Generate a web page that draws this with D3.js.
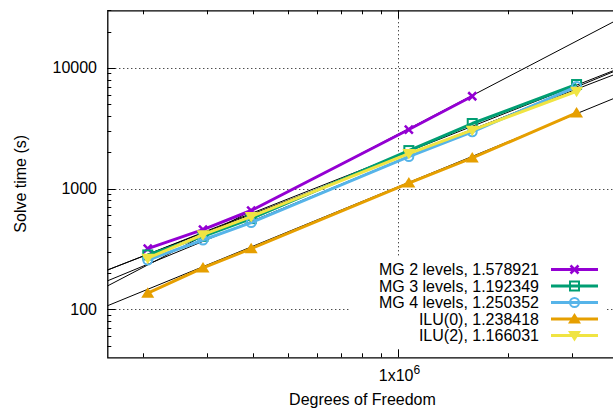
<!DOCTYPE html>
<html><head><meta charset="utf-8">
<script src="https://cdn.jsdelivr.net/npm/d3@7"></script>
<style>
html,body{margin:0;padding:0;background:#fff;}
svg{display:block;font-family:"Liberation Sans",Arial,sans-serif;}
</style></head>
<body>
<svg id="chart" width="613" height="412"></svg>
<script>
// ---- data ----
const dof = [206500, 292600, 396500, 1072000, 1599000, 3088000];
const mg2 = [318, 457, 658, 3085, 5820];
const mg3 = [282, 402, 564, 2065, 3460, 7280];
const mg4 = [256, 375, 523, 1842, 2950, 7000];
const ilu0 = [136, 220, 318, 1112, 1795, 4230];
const ilu2 = [265, 415, 586, 1950, 3050, 6400];
const seriesNames = ["MG 2 levels", "MG 3 levels", "MG 4 levels", "ILU(0)", "ILU(2)"];
const fitSlopes = [1.578921, 1.192349, 1.250352, 1.238418, 1.166031];
const fitAt1M = [2812, 1875, 1698, 1033, 1791];   // fitted value at 1e6 DOF
const yTickValues = [100, 1000, 10000];
const yTickLabels = ["100", "1000", "10000"];
const xMajorTicks = [1e6];
const xMinorTicks = [2e5, 3e5, 4e5, 5e5, 6e5, 7e5, 8e5, 9e5, 2e6, 3e6];
const yMinorTicks = [50, 60, 70, 80, 90, 200, 300, 400, 500, 600, 700, 800, 900,
  2000, 3000, 4000, 5000, 6000, 7000, 8000, 9000, 20000, 30000];

const colors = ["#9400d3", "#009e73", "#56b4e9", "#e69f00", "#f0e442"];
const markers = ["cross", "openSquare", "openCircle", "triUp", "triDown"];
const allSeries = [mg2, mg3, mg4, ilu0, ilu2];

// ---- layout ----
const L = 107.3, R = 617.6, T = 10.3, B = 357.3;
const svg = d3.select("#chart");
const x = d3.scaleLog().domain([1.6e5, 4e6]).range([L, R]);
const y = d3.scaleLog().domain([40, 30000]).range([B, T]);

svg.append("defs").append("clipPath").attr("id", "clip")
  .append("rect").attr("x", L).attr("y", T).attr("width", R - L).attr("height", B - T);

// grid
const grid = svg.append("g").attr("stroke", "#000").attr("stroke-width", 1)
  .attr("stroke-dasharray", "1,3");
yTickValues.forEach(v => grid.append("line").attr("x1", L).attr("x2", R)
  .attr("y1", Math.round(y(v)) + 0.5).attr("y2", Math.round(y(v)) + 0.5));
xMajorTicks.forEach(v => grid.append("line").attr("y1", T).attr("y2", B)
  .attr("x1", Math.round(x(v)) + 0.5).attr("x2", Math.round(x(v)) + 0.5));

// axes (ticks inward, mirrored)
const ax = svg.append("g").attr("stroke", "#000").attr("stroke-width", 1);
yTickValues.forEach(v => {
  const yy = Math.round(y(v)) + 0.5;
  ax.append("line").attr("x1", L).attr("x2", L + 8).attr("y1", yy).attr("y2", yy);
});
yMinorTicks.forEach(v => {
  const yy = Math.round(y(v)) + 0.5;
  ax.append("line").attr("x1", L).attr("x2", L + 4).attr("y1", yy).attr("y2", yy);
});
xMajorTicks.forEach(v => {
  const xx = Math.round(x(v)) + 0.5;
  ax.append("line").attr("x1", xx).attr("x2", xx).attr("y1", B).attr("y2", B - 8);
  ax.append("line").attr("x1", xx).attr("x2", xx).attr("y1", T).attr("y2", T + 8);
});
xMinorTicks.forEach(v => {
  const xx = Math.round(x(v)) + 0.5;
  ax.append("line").attr("x1", xx).attr("x2", xx).attr("y1", B).attr("y2", B - 4);
  ax.append("line").attr("x1", xx).attr("x2", xx).attr("y1", T).attr("y2", T + 4);
});

// fit lines
const fits = svg.append("g").attr("clip-path", "url(#clip)");
const xd = x.domain();
fitSlopes.forEach((b, i) => {
  const f = v => fitAt1M[i] * Math.pow(v / 1e6, b);
  fits.append("line").attr("x1", x(xd[0])).attr("y1", y(f(xd[0])))
    .attr("x2", x(xd[1])).attr("y2", y(f(xd[1])))
    .attr("stroke", "#000").attr("stroke-width", 1);
});

// marker drawing
function drawMarker(g, type, cx, cy, color) {
  if (type === "cross") {
    const s = 4;
    g.append("path").attr("d", `M${cx - s},${cy - s}L${cx + s},${cy + s}M${cx - s},${cy + s}L${cx + s},${cy - s}`)
      .attr("stroke", color).attr("stroke-width", 2.5).attr("fill", "none");
  } else if (type === "openSquare") {
    g.append("rect").attr("x", cx - 4.5).attr("y", cy - 4.5).attr("width", 9).attr("height", 9)
      .attr("stroke", color).attr("stroke-width", 2).attr("fill", "none");
  } else if (type === "openCircle") {
    g.append("circle").attr("cx", cx).attr("cy", cy).attr("r", 4.5)
      .attr("stroke", color).attr("stroke-width", 2).attr("fill", "none");
  } else if (type === "triUp") {
    g.append("path").attr("d", `M${cx},${cy - 6}L${cx + 6.5},${cy + 4.5}L${cx - 6.5},${cy + 4.5}Z`)
      .attr("fill", color);
  } else if (type === "triDown") {
    g.append("path").attr("d", `M${cx},${cy + 6}L${cx + 6.5},${cy - 4.5}L${cx - 6.5},${cy - 4.5}Z`)
      .attr("fill", color);
  }
}

// data series
const dataG = svg.append("g").attr("clip-path", "url(#clip)");
const line = d3.line().x(d => x(d[0])).y(d => y(d[1]));
allSeries.forEach((vals, i) => {
  const pts = vals.map((v, j) => [dof[j], v]);
  dataG.append("path").attr("d", line(pts)).attr("fill", "none")
    .attr("stroke", colors[i]).attr("stroke-width", 3).attr("stroke-linejoin", "round");
  pts.forEach(p => drawMarker(dataG, markers[i], x(p[0]), y(p[1]), colors[i]));
});

// legend (opaque box)
svg.append("rect").attr("x", 350).attr("y", 258).attr("width", 255).attr("height", 90).attr("fill", "#fff");
const lg = svg.append("g");
const rowY = [269.5, 286, 302.5, 319, 335.5];
seriesNames.forEach((n, i) => {
  lg.append("text").attr("x", 539).attr("y", rowY[i] + 5.5).attr("text-anchor", "end")
    .attr("font-size", 16).attr("fill", "#000").text(n + ", " + fitSlopes[i].toFixed(6));
  lg.append("line").attr("x1", 551).attr("x2", 598).attr("y1", rowY[i]).attr("y2", rowY[i])
    .attr("stroke", colors[i]).attr("stroke-width", 3);
  drawMarker(lg, markers[i], 574.5, rowY[i], colors[i]);
});

// borders (left, bottom, top; right border outside view)
svg.append("path").attr("d", `M${R},${T + 0.5}H${L + 0.5}V${B + 0.5}H${R}`)
  .attr("fill", "none").attr("stroke", "#000").attr("stroke-width", 1.3);

// tick labels
const tl = svg.append("g").attr("font-size", 16).attr("fill", "#000");
yTickValues.forEach((v, i) => tl.append("text").attr("x", 97).attr("y", y(v) + 5.5)
  .attr("text-anchor", "end").text(yTickLabels[i]));
xMajorTicks.forEach(v => {
  const t = tl.append("text").attr("x", x(v) - 19).attr("y", 381);
  t.append("tspan").text("1x10");
  t.append("tspan").attr("font-size", 12).attr("dy", -7).text("6");
});

// axis titles
svg.append("text").attr("x", (L + R) / 2).attr("y", 405).attr("text-anchor", "middle")
  .attr("font-size", 16).text("Degrees of Freedom");
svg.append("text").attr("transform", `translate(26,${(T + B) / 2}) rotate(-90)`)
  .attr("text-anchor", "middle").attr("font-size", 16).text("Solve time (s)");
</script>
</body></html>
